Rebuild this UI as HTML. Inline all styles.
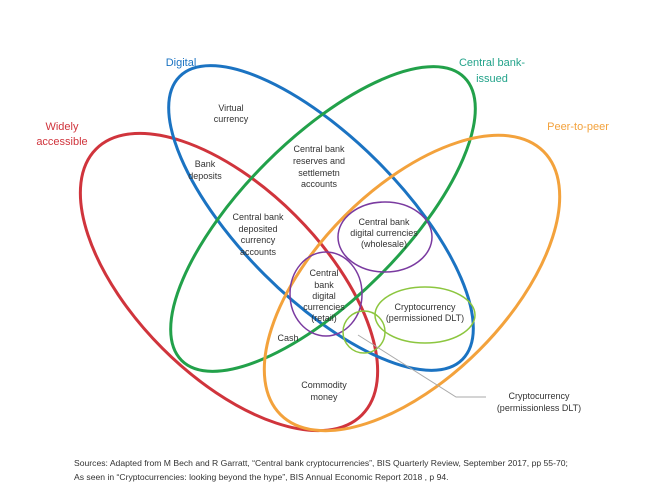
<!DOCTYPE html>
<html><head><style>body{margin:0;background:#fff}svg{display:block}text{font-family:"Liberation Sans",sans-serif}</style></head>
<body>
<svg width="661" height="498" viewBox="0 0 661 498" xmlns="http://www.w3.org/2000/svg">
<g fill="none" stroke-width="3">
<ellipse cx="229" cy="282" rx="188" ry="94" transform="rotate(45 229 282)" stroke="#d0343c"/>
<ellipse cx="321" cy="218" rx="200" ry="80" transform="rotate(45 321 218)" stroke="#1b73c2"/>
<ellipse cx="323" cy="219" rx="200" ry="80" transform="rotate(-45 323 219)" stroke="#22a14a"/>
<ellipse cx="412" cy="283" rx="186" ry="95" transform="rotate(-45 412 283)" stroke="#f3a23c"/>
</g>
<g fill="none" stroke-width="1.5">
<ellipse cx="385" cy="237" rx="47" ry="35" stroke="#7a3aa0"/>
<ellipse cx="326" cy="294" rx="36" ry="42" stroke="#7a3aa0"/>
<ellipse cx="425" cy="315" rx="50" ry="28" stroke="#8cc63f"/>
<ellipse cx="364" cy="332" rx="21" ry="21" stroke="#8cc63f"/>
</g>
<polyline points="358,335 456,397 486,397" fill="none" stroke="#aaa" stroke-width="1"/>
<g font-size="11" text-anchor="middle">
<text x="181" y="66" fill="#1b73c2">Digital</text>
<text x="492" y="66" fill="#22a38a">Central bank-</text>
<text x="492" y="82" fill="#22a38a">issued</text>
<text x="62" y="130" fill="#d0343c">Widely</text>
<text x="62" y="145" fill="#d0343c">accessible</text>
<text x="578" y="130" fill="#f3a23c">Peer-to-peer</text>
</g>
<g font-size="9" text-anchor="middle" fill="#333">
<text x="231" y="111">Virtual</text><text x="231" y="122">currency</text>
<text x="205" y="167">Bank</text><text x="205" y="179">deposits</text>
<text x="319" y="152">Central bank</text><text x="319" y="164">reserves and</text><text x="319" y="176">settlemetn</text><text x="319" y="187">accounts</text>
<text x="258" y="220">Central bank</text><text x="258" y="232">deposited</text><text x="258" y="243">currency</text><text x="258" y="255">accounts</text>
<text x="384" y="225">Central bank</text><text x="384" y="236">digital currencies</text><text x="384" y="247">(wholesale)</text>
<text x="324" y="276">Central</text><text x="324" y="288">bank</text><text x="324" y="299">digital</text><text x="324" y="310">currencies</text><text x="324" y="321">(retail)</text>
<text x="425" y="310">Cryptocurrency</text><text x="425" y="321">(permissioned DLT)</text>
<text x="288" y="341">Cash</text>
<text x="324" y="388">Commodity</text><text x="324" y="400">money</text>
<text x="539" y="399">Cryptocurrency</text><text x="539" y="411">(permissionless DLT)</text>
</g>
<g font-size="8.6" fill="#333">
<text x="74" y="466">Sources: Adapted from M Bech and R Garratt, “Central bank cryptocurrencies”, BIS Quarterly Review, September 2017, pp 55-70;</text>
<text x="74" y="480">As seen in “Cryptocurrencies: looking beyond the hype”, BIS Annual Economic Report 2018 , p 94.</text>
</g>
</svg>
</body></html>
